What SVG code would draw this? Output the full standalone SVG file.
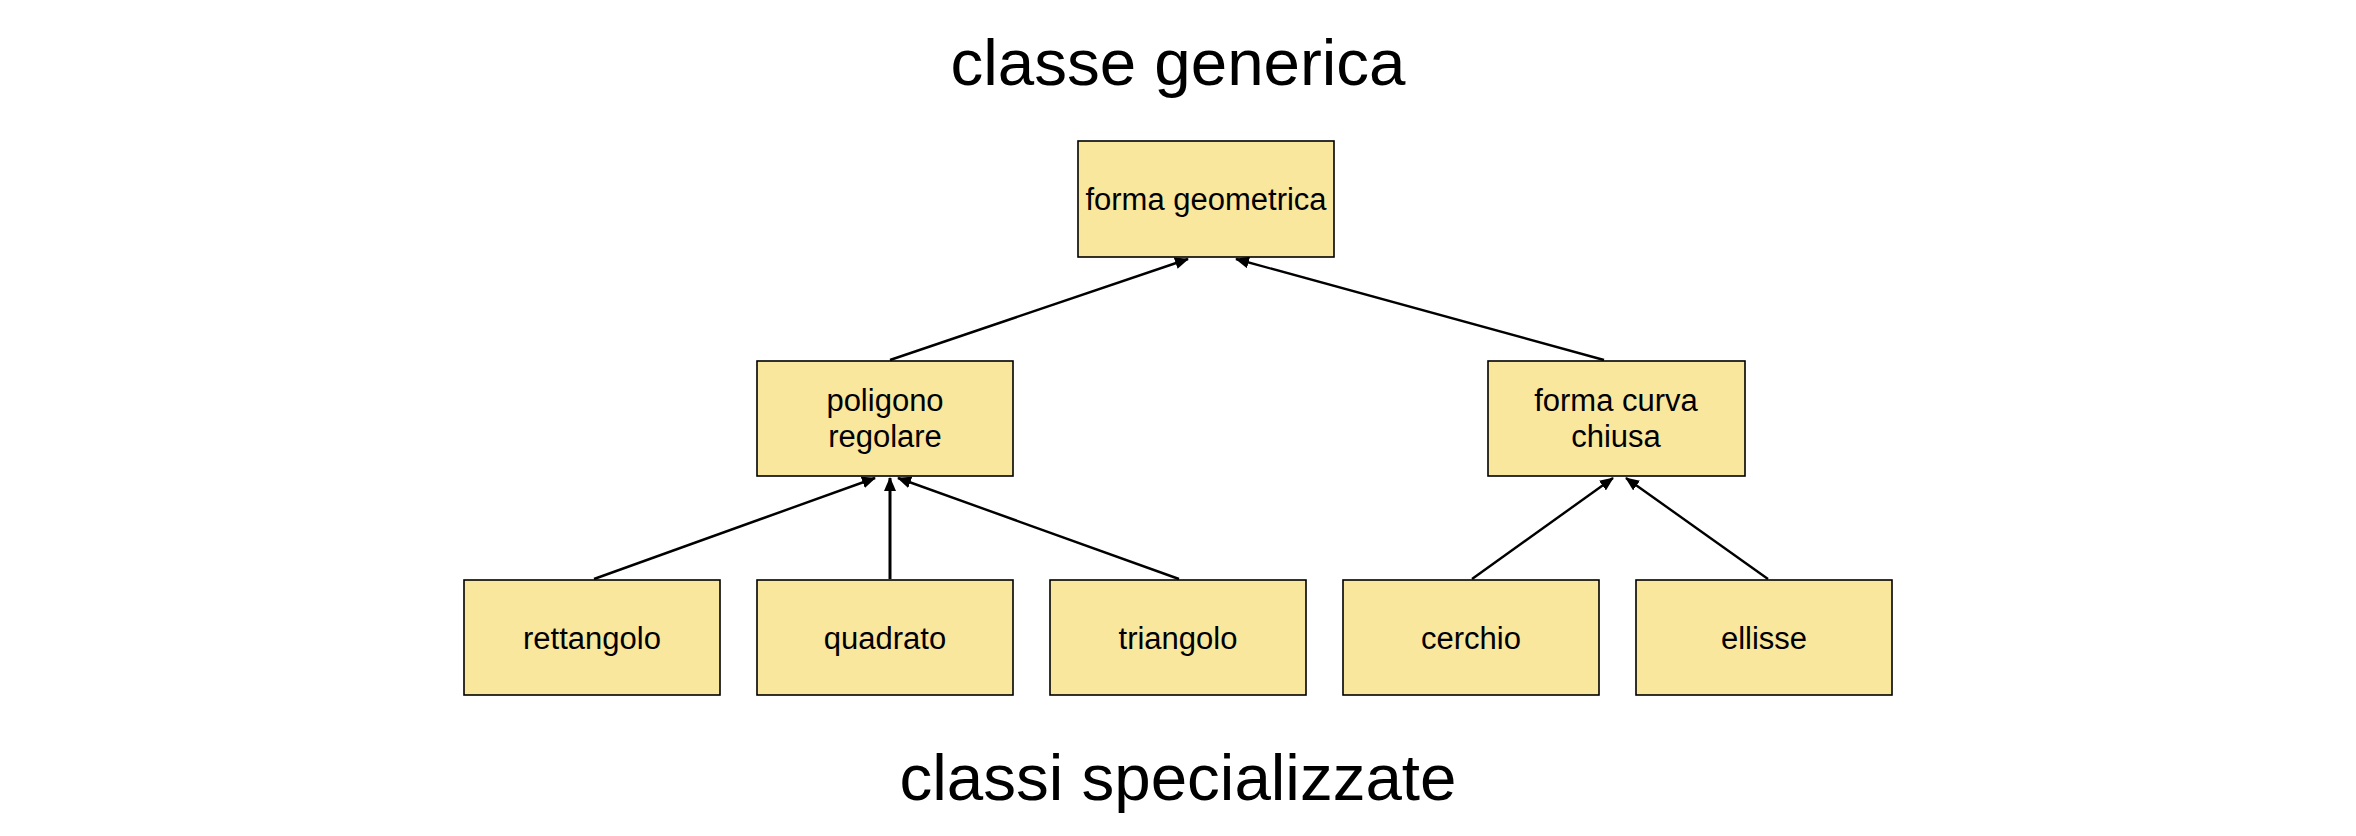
<svg xmlns="http://www.w3.org/2000/svg" width="2356" height="836" viewBox="0 0 2356 836">
<style>
.box{fill:#F9E79E;stroke:#000;stroke-width:1.6}
.lbl{font-family:"Liberation Sans",Arial,sans-serif;font-size:31px;fill:#000;text-anchor:middle}
.title{font-family:"Liberation Sans",Arial,sans-serif;font-size:65.5px;fill:#000;text-anchor:middle}
.conn{stroke:#000;stroke-width:2.4;fill:none;marker-end:url(#arr)}
</style>
<defs>
<marker id="arr" markerWidth="14" markerHeight="12" refX="13" refY="6" orient="auto" markerUnits="userSpaceOnUse">
<path d="M0,0 L14,6 L0,12 Z" fill="#000"/>
</marker>
</defs>
<rect width="2356" height="836" fill="#fff"/>
<text class="title" x="1178" y="85">classe generica</text>
<text class="title" x="1178" y="800">classi specializzate</text>
<g id="connectors">
<line class="conn" x1="890" y1="360" x2="1188" y2="259"/>
<line class="conn" x1="1604" y1="360" x2="1236" y2="259"/>
<line class="conn" x1="594" y1="579" x2="875" y2="478"/>
<line class="conn" x1="890" y1="579" x2="890" y2="478" style="stroke-width:3"/>
<line class="conn" x1="1179" y1="579" x2="898" y2="478"/>
<line class="conn" x1="1472" y1="579" x2="1613" y2="478"/>
<line class="conn" x1="1768" y1="579" x2="1626" y2="478"/>
</g>
<g id="forma-geometrica"><rect class="box" x="1078" y="141" width="256" height="116"/><text class="lbl" x="1206" y="210">forma geometrica</text></g>
<g id="poligono-regolare"><rect class="box" x="757" y="361" width="256" height="115"/><text class="lbl" x="885" y="411">poligono</text><text class="lbl" x="885" y="447">regolare</text></g>
<g id="forma-curva-chiusa"><rect class="box" x="1488" y="361" width="257" height="115"/><text class="lbl" x="1616" y="411">forma curva</text><text class="lbl" x="1616" y="447">chiusa</text></g>
<g id="rettangolo"><rect class="box" x="464" y="580" width="256" height="115"/><text class="lbl" x="592" y="649">rettangolo</text></g>
<g id="quadrato"><rect class="box" x="757" y="580" width="256" height="115"/><text class="lbl" x="885" y="649">quadrato</text></g>
<g id="triangolo"><rect class="box" x="1050" y="580" width="256" height="115"/><text class="lbl" x="1178" y="649">triangolo</text></g>
<g id="cerchio"><rect class="box" x="1343" y="580" width="256" height="115"/><text class="lbl" x="1471" y="649">cerchio</text></g>
<g id="ellisse"><rect class="box" x="1636" y="580" width="256" height="115"/><text class="lbl" x="1764" y="649">ellisse</text></g>
</svg>
